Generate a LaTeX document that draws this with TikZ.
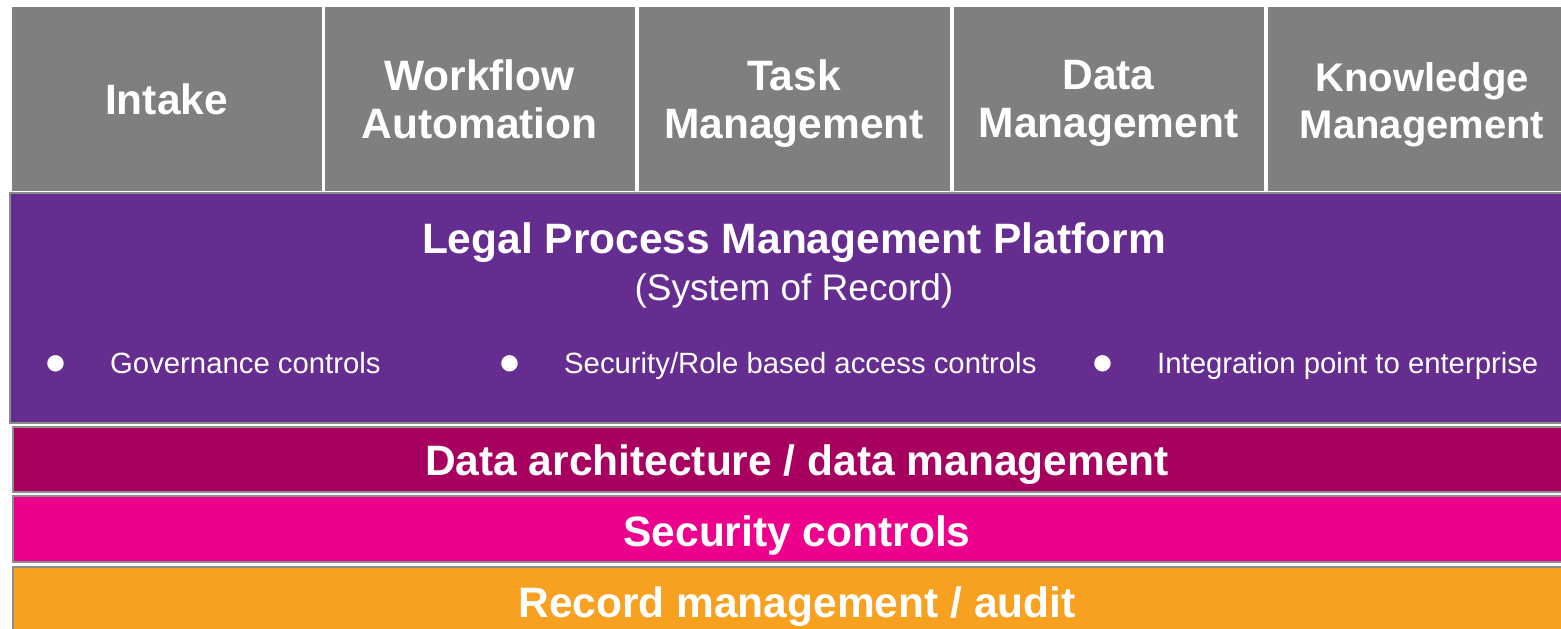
\documentclass[tikz,border=0pt]{standalone}
\usepackage{fontspec}
\setmainfont{Liberation Sans}
\usepackage{tikz}

\definecolor{tabgray}{HTML}{7F7F7F}
\definecolor{lpmpurple}{HTML}{662D91}
\definecolor{datamag}{HTML}{A8005F}
\definecolor{secpink}{HTML}{EC008C}
\definecolor{recorange}{HTML}{F8A01F}
\definecolor{edgegray}{HTML}{8C8C8C}

\begin{document}
\begin{tikzpicture}
  [x=1pt, y=-1pt,
   tab/.style={fill=tabgray, draw=white, line width=1pt},
   band/.style={draw=edgegray, line width=1.5pt},
   big/.style={text=white, inner sep=0pt, font=\bfseries\fontsize{42.5}{48}\selectfont},
   small/.style={text=white, inner sep=0pt, font=\fontsize{29.3}{34}\selectfont},
   dot/.style={text=white, inner sep=0pt, font=\fontsize{38}{40}\selectfont}]
  \useasboundingbox (0, 0) rectangle (1561, 629);
  \clip (0, 0) rectangle (1561, 629);
  % top row
  \draw[tab] (11, 6) rectangle (322, 191);
  \draw[tab] (324, 6) rectangle (635, 191);
  \draw[tab] (638, 6) rectangle (950, 191);
  \draw[tab] (953, 6) rectangle (1264, 191);
  \draw[tab] (1267, 6) rectangle (1578, 191);
  \node[big, anchor=base] (intake) at (166.5, 114) {Intake};
  \node[big, anchor=north, align=center] (workflow) at (479.5, 59.5) {Workflow\\Automation};
  \node[big, anchor=north, align=center] (task) at (794, 59.5) {Task\\Management};
  \node[big, anchor=north, align=center] (data) at (1108.5, 60.5) {Data\\Management};
  \node[big, anchor=north, align=center, font=\bfseries\fontsize{40}{47}\selectfont]
    (knowledge) at (1422, 62) {Knowledge\\Management};
  % platform
  \draw[band, fill=lpmpurple] (10, 193) rectangle (1580, 423);
  \node[big, anchor=base] (platform) at (794, 253) {Legal Process Management Platform};
  \node[small, anchor=base, font=\fontsize{37}{40}\selectfont] (record) at (794, 300) {(System of Record)};
  \node[dot] (b1) at (56, 365) {●};
  \node[dot] (b2) at (510, 365) {●};
  \node[dot] (b3) at (1103, 365) {●};
  \node[small, anchor=base west] (governance) at (110, 373) {Governance controls};
  \node[small, anchor=base west] (access) at (564, 373) {Security/Role based access controls};
  \node[small, anchor=base west] (integration) at (1157, 373) {Integration point to enterprise};
  % layers
  \draw[band, fill=datamag] (13, 427) rectangle (1580, 492);
  \node[big, anchor=base] (dataarch) at (797, 475) {Data architecture / data management};
  \draw[band, fill=secpink] (13, 496) rectangle (1580, 562);
  \node[big, anchor=base] (security) at (797, 546) {Security controls};
  \draw[band, fill=recorange] (13, 567) rectangle (1580, 650);
  \node[big, anchor=base] (audit) at (797, 617) {Record management / audit};
\end{tikzpicture}
\end{document}
